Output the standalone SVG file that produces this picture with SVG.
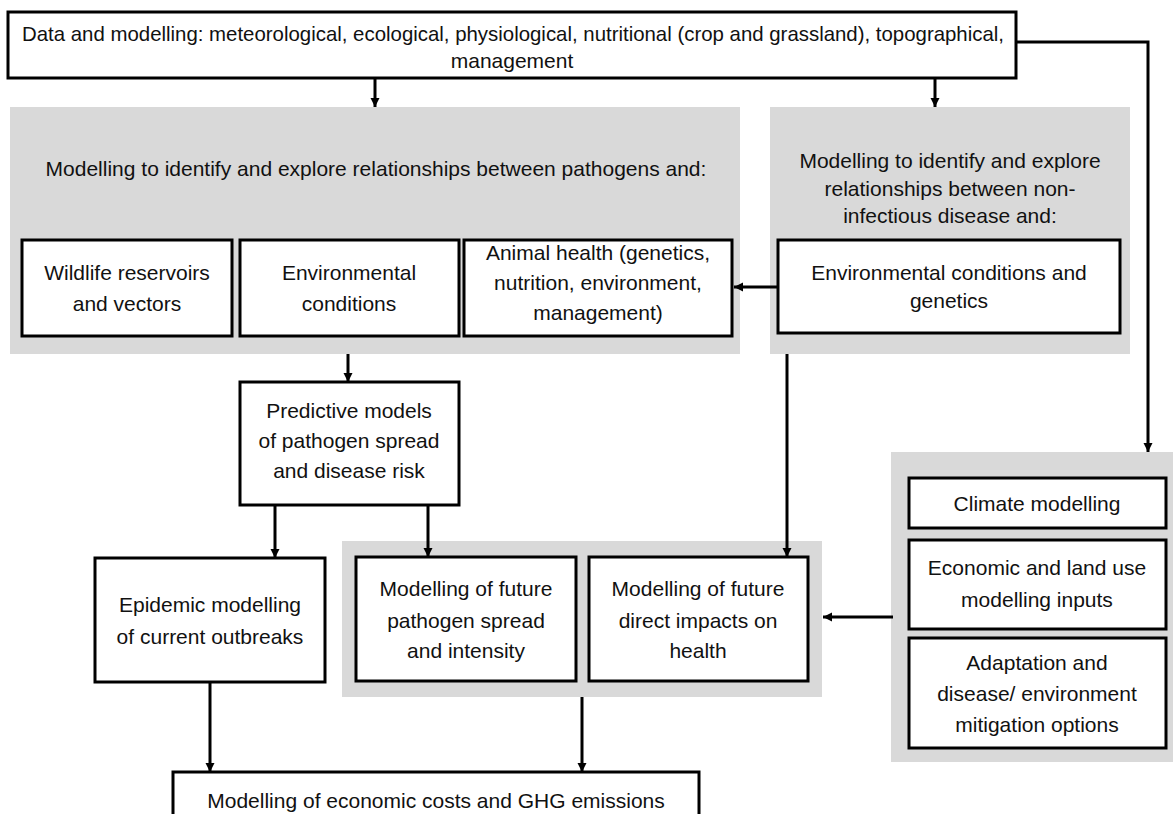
<svg xmlns="http://www.w3.org/2000/svg" width="1173" height="814" viewBox="0 0 1173 814">
<defs>
<marker id="ah" markerUnits="userSpaceOnUse" markerWidth="10" markerHeight="10" viewBox="0 0 10 10" refX="9" refY="5" orient="auto">
<path d="M0,0.5 L9,5 L0,9.5 z" fill="#000"/>
</marker>
</defs>
<style>
.box{fill:#fff;stroke:#000;stroke-width:3}
.panel{fill:#d9d9d9;stroke:none}
.t{font-family:"Liberation Sans",Arial,sans-serif;font-size:21px;fill:#111;text-anchor:middle}
.c{fill:none;stroke:#000;stroke-width:3;marker-end:url(#ah)}
</style>
<rect width="1173" height="814" fill="#fff"/>

<g id="panel-pathogens">
<rect class="panel" x="10" y="107" width="730" height="247"/>
<text class="t" x="376" y="176">Modelling to identify and explore relationships between pathogens and:</text>
</g>
<g id="panel-noninfectious">
<rect class="panel" x="770" y="107" width="360" height="247"/>
<text class="t" x="950" y="168">Modelling to identify and explore</text>
<text class="t" x="950" y="196">relationships between non-</text>
<text class="t" x="950" y="223">infectious disease and:</text>
</g>
<g id="panel-future">
<rect class="panel" x="342" y="541" width="480" height="156"/>
</g>
<g id="panel-inputs">
<rect class="panel" x="891" y="452" width="282" height="310"/>
</g>

<g id="n-data">
<rect class="box" x="8" y="12" width="1008" height="66"/>
<text class="t" x="513" y="41" textLength="982" lengthAdjust="spacingAndGlyphs">Data and modelling: meteorological, ecological, physiological, nutritional (crop and grassland), topographical,</text>
<text class="t" x="512" y="68">management</text>
</g>
<g id="n-wildlife">
<rect class="box" x="22" y="240" width="210" height="96"/>
<text class="t" x="127" y="280">Wildlife reservoirs</text>
<text class="t" x="127" y="311">and vectors</text>
</g>
<g id="n-envcond">
<rect class="box" x="240" y="240" width="219" height="96"/>
<text class="t" x="349" y="280">Environmental</text>
<text class="t" x="349" y="311">conditions</text>
</g>
<g id="n-animal">
<rect class="box" x="464" y="240" width="268" height="96"/>
<text class="t" x="598" y="260">Animal health (genetics,</text>
<text class="t" x="598" y="290">nutrition, environment,</text>
<text class="t" x="598" y="320">management)</text>
</g>
<g id="n-envgen">
<rect class="box" x="778" y="240" width="342" height="93"/>
<text class="t" x="949" y="280">Environmental conditions and</text>
<text class="t" x="949" y="308">genetics</text>
</g>
<g id="n-predictive">
<rect class="box" x="240" y="382" width="219" height="123"/>
<text class="t" x="349" y="418">Predictive models</text>
<text class="t" x="349" y="448">of pathogen spread</text>
<text class="t" x="349" y="478">and disease risk</text>
</g>
<g id="n-epidemic">
<rect class="box" x="95" y="558" width="230" height="124"/>
<text class="t" x="210" y="612">Epidemic modelling</text>
<text class="t" x="210" y="644">of current outbreaks</text>
</g>
<g id="n-futurepath">
<rect class="box" x="356" y="557" width="220" height="124"/>
<text class="t" x="466" y="596">Modelling of future</text>
<text class="t" x="466" y="628">pathogen spread</text>
<text class="t" x="466" y="658">and intensity</text>
</g>
<g id="n-futuredirect">
<rect class="box" x="589" y="557" width="219" height="124"/>
<text class="t" x="698" y="596">Modelling of future</text>
<text class="t" x="698" y="628">direct impacts on</text>
<text class="t" x="698" y="658">health</text>
</g>
<g id="n-climate">
<rect class="box" x="909" y="478" width="257" height="50"/>
<text class="t" x="1037" y="511">Climate modelling</text>
</g>
<g id="n-economic">
<rect class="box" x="909" y="540" width="257" height="89"/>
<text class="t" x="1037" y="575">Economic and land use</text>
<text class="t" x="1037" y="607">modelling inputs</text>
</g>
<g id="n-adaptation">
<rect class="box" x="909" y="638" width="257" height="110"/>
<text class="t" x="1037" y="670">Adaptation and</text>
<text class="t" x="1037" y="701">disease/ environment</text>
<text class="t" x="1037" y="732">mitigation options</text>
</g>
<g id="n-costs">
<rect class="box" x="173" y="772" width="526" height="80"/>
<text class="t" x="436" y="808">Modelling of economic costs and GHG emissions</text>
</g>

<g id="connectors">
<path class="c" d="M375,78 V107"/>
<path class="c" d="M935,78 V107"/>
<path class="c" d="M1016,42 H1148 V452"/>
<path class="c" d="M778,287 H734"/>
<path class="c" d="M348,354 V382"/>
<path class="c" d="M787,354 V557"/>
<path class="c" d="M275,505 V558"/>
<path class="c" d="M428,505 V557"/>
<path class="c" d="M893,617 H823"/>
<path class="c" d="M210,682 V772"/>
<path class="c" d="M582,697 V772"/>
</g>
</svg>
